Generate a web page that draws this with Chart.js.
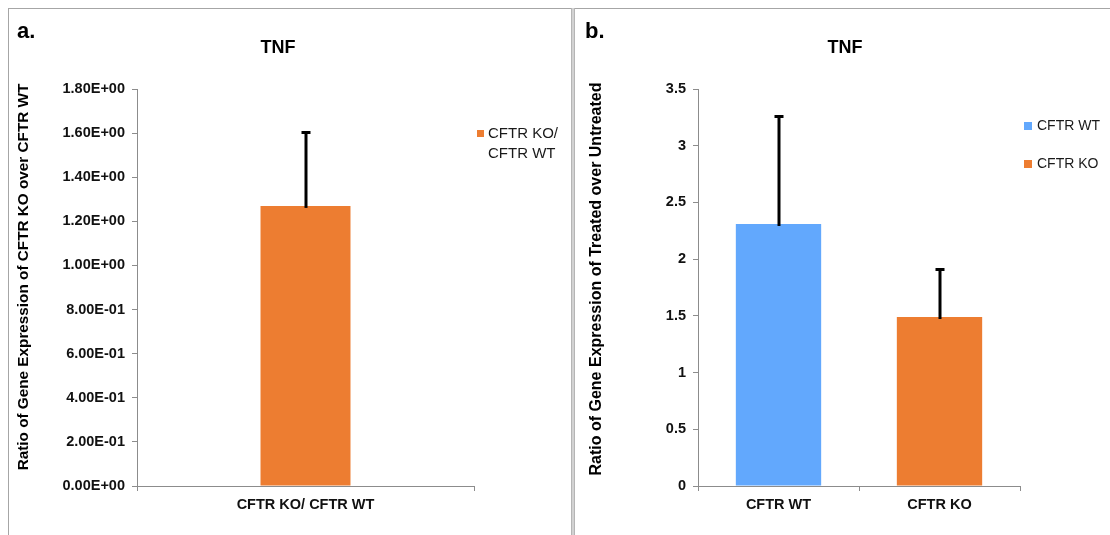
<!DOCTYPE html>
<html><head><meta charset="utf-8">
<script src="https://cdn.jsdelivr.net/npm/chart.js@4.4.1/dist/chart.umd.min.js"></script>
<style>
html,body{margin:0;padding:0;background:#fff;}
body{width:1110px;height:535px;position:relative;overflow:hidden;}
#wrapA{position:absolute;left:0;top:0;width:572px;height:535px;}
#wrapB{position:absolute;left:576px;top:0;width:534px;height:535px;}
.line{position:absolute;background:#a6a6a6;}
</style></head><body>
<div class="line" style="left:8px;top:8px;width:1102px;height:1px"></div>
<div class="line" style="left:8px;top:8px;width:1px;height:527px"></div>
<div style="position:absolute;left:571px;top:8px;width:2px;height:527px;background:#d2d2d2;border-left:1px solid #b5b5b5;border-right:1px solid #b5b5b5"></div>
<div id="wrapA"><canvas id="chartA"></canvas></div>
<div id="wrapB"><canvas id="chartB"></canvas></div>
<script>
// ---- data ----
const categoriesA = ['CFTR KO/ CFTR WT'];
const valuesA = [1.27];
const errorsA = [0.34];
const yTicksA = ['0.00E+00','2.00E-01','4.00E-01','6.00E-01','8.00E-01','1.00E+00','1.20E+00','1.40E+00','1.60E+00','1.80E+00'];
const legendLinesA = ['CFTR KO/', 'CFTR WT'];

const categoriesB = ['CFTR WT', 'CFTR KO'];
const valuesB = [2.31, 1.49];
const errorsB = [0.96, 0.43];
const yTicksB = ['0','0.5','1','1.5','2','2.5','3','3.5'];
const legendB = ['CFTR WT', 'CFTR KO'];

const ORANGE = '#ED7D31';
const BLUE = '#62A8FD';
const FAMILY = "'Liberation Sans', Arial, sans-serif";
const AXIS = '#8c8c8c';

const decorPlugin = {
  id: 'decor',
  afterDatasetsDraw(chart, args, opts) {
    const ctx = chart.ctx;
    const meta = chart.getDatasetMeta(0);
    const ys = chart.scales.y;
    const data = chart.data.datasets[0].data;
    ctx.save();
    ctx.strokeStyle = '#000';
    ctx.lineWidth = 3;
    (opts.errors || []).forEach((e, i) => {
      const x = Math.round(meta.data[i].x);
      const yb = ys.getPixelForValue(data[i]) + 2;
      const yt = Math.round(ys.getPixelForValue(data[i] + e));
      ctx.beginPath(); ctx.moveTo(x, yb); ctx.lineTo(x, yt); ctx.stroke();
      ctx.beginPath(); ctx.moveTo(x - 4.5, yt + 1.5); ctx.lineTo(x + 4.5, yt + 1.5); ctx.stroke();
    });
    ctx.restore();
  },
  afterDraw(chart, args, opts) {
    const ctx = chart.ctx;
    ctx.save();
    (opts.texts || []).forEach(t => {
      ctx.save();
      ctx.font = t.font;
      ctx.fillStyle = t.color || '#000';
      ctx.textAlign = t.align || 'center';
      ctx.textBaseline = t.baseline || 'middle';
      ctx.translate(t.x, t.y);
      if (t.rotate) ctx.rotate(t.rotate);
      ctx.fillText(t.text, 0, 0);
      ctx.restore();
    });
    (opts.legend || []).forEach(l => {
      ctx.fillStyle = l.color;
      ctx.fillRect(l.bx, l.by, l.bs, l.bs);
      ctx.font = l.font;
      ctx.fillStyle = '#1a1a1a';
      ctx.textAlign = 'left';
      ctx.textBaseline = 'middle';
      l.lines.forEach((s, k) => ctx.fillText(s, l.tx, l.ty + k * l.lh));
    });
    ctx.restore();
  }
};

function axisOpts(tickArr, max, step, yWidth) {
  return {
    x: {
      grid: { drawOnChartArea: false, tickLength: 5, color: AXIS, offset: true },
      border: { color: AXIS },
      ticks: { font: { family: FAMILY, size: 14.5, weight: 'bold' }, color: '#111', padding: 5 },
      afterFit(s) { s.height = 40; }
    },
    y: {
      min: 0, max: max,
      grid: { drawOnChartArea: false, tickLength: 5, color: AXIS },
      border: { color: AXIS },
      ticks: { stepSize: step, callback: (v, i) => tickArr[i], font: { family: FAMILY, size: 14.5, weight: 'bold' }, color: '#111', padding: 7 },
      afterFit(s) { s.width = yWidth; }
    }
  };
}

new Chart(document.getElementById('chartA'), {
  type: 'bar',
  data: { labels: categoriesA, datasets: [{ label: 'CFTR KO/ CFTR WT', data: valuesA, backgroundColor: [ORANGE], barPercentage: 0.267, categoryPercentage: 1 }] },
  options: {
    responsive: true, maintainAspectRatio: false, animation: false,
    layout: { padding: { left: 0, right: 98, top: 89, bottom: 9 } },
    plugins: {
      legend: { display: false }, tooltip: { enabled: false },
      decor: {
        errors: errorsA,
        texts: [
          { text: 'a.', x: 17, y: 38, font: `bold 22px ${FAMILY}`, align: 'left', baseline: 'alphabetic' },
          { text: 'TNF', x: 278, y: 48, font: `bold 18px ${FAMILY}` },
          { text: 'Ratio of Gene Expression of CFTR KO over CFTR WT', x: 24, y: 277, font: `bold 15.3px ${FAMILY}`, rotate: -Math.PI / 2 }
        ],
        legend: [{ color: ORANGE, bx: 477, by: 130, bs: 7, tx: 488, ty: 134, lh: 20, lines: legendLinesA, font: `15px ${FAMILY}` }]
      }
    },
    scales: axisOpts(yTicksA, 1.8, 0.2, 137)
  },
  plugins: [decorPlugin]
});

new Chart(document.getElementById('chartB'), {
  type: 'bar',
  data: { labels: categoriesB, datasets: [{ label: 'TNF', data: valuesB, backgroundColor: [BLUE, ORANGE], barPercentage: 0.53, categoryPercentage: 1 }] },
  options: {
    responsive: true, maintainAspectRatio: false, animation: false,
    layout: { padding: { left: 0, right: 90, top: 89, bottom: 9 } },
    plugins: {
      legend: { display: false }, tooltip: { enabled: false },
      decor: {
        errors: errorsB,
        texts: [
          { text: 'b.', x: 9, y: 38, font: `bold 22px ${FAMILY}`, align: 'left', baseline: 'alphabetic' },
          { text: 'TNF', x: 269, y: 48, font: `bold 18px ${FAMILY}` },
          { text: 'Ratio of Gene Expression of Treated over Untreated', x: 21, y: 279, font: `bold 16px ${FAMILY}`, rotate: -Math.PI / 2 }
        ],
        legend: [
          { color: BLUE, bx: 448, by: 122, bs: 8, tx: 461, ty: 126, lh: 0, lines: [legendB[0]], font: `14px ${FAMILY}` },
          { color: ORANGE, bx: 448, by: 160, bs: 8, tx: 461, ty: 164, lh: 0, lines: [legendB[1]], font: `14px ${FAMILY}` }
        ]
      }
    },
    scales: axisOpts(yTicksB, 3.5, 0.5, 122)
  },
  plugins: [decorPlugin]
});
</script>
</body></html>
